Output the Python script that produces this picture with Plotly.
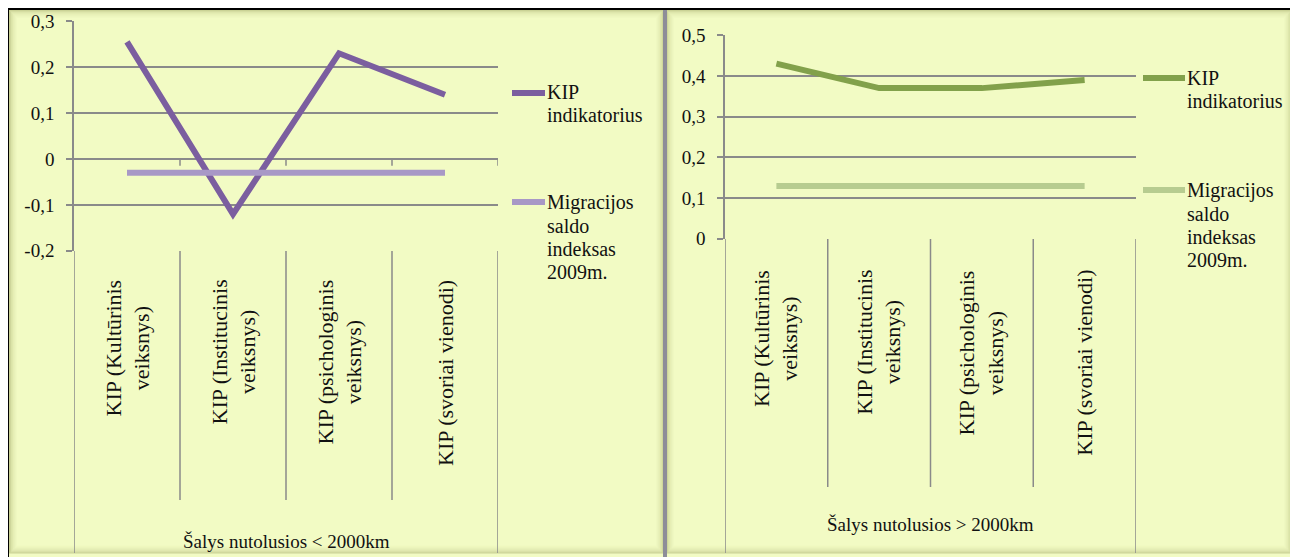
import plotly.graph_objects as go

# page is 1298x557; the page body has an 8px margin, so the figure is offset by 8px
PAGE_W, PAGE_H = 1298, 557
OFF = 8
W, H = PAGE_W - OFF, PAGE_H - OFF

# ---------------- data ----------------
categories = ["KIP (Kultūrinis<br>veiksnys)", "KIP (Institucinis<br>veiksnys)",
              "KIP (psichologinis<br>veiksnys)", "KIP (svoriai vienodi)"]
group_near = "Šalys nutolusios &lt; 2000km"
group_far = "Šalys nutolusios &gt; 2000km"
series_kip_lines = ["KIP", "indikatorius"]
series_mig_lines = ["Migracijos", "saldo", "indeksas", "2009m."]

kip_near = [0.255, -0.12, 0.23, 0.14]
mig_near = [-0.03, -0.03, -0.03, -0.03]
kip_far = [0.43, 0.37, 0.37, 0.39]
mig_far = [0.13, 0.13, 0.13, 0.13]

yticks_near = [-0.2, -0.1, 0, 0.1, 0.2, 0.3]
yticklabels_near = ["-0,2", "-0,1", "0", "0,1", "0,2", "0,3"]
yticks_far = [0, 0.1, 0.2, 0.3, 0.4, 0.5]
yticklabels_far = ["0", "0,1", "0,2", "0,3", "0,4", "0,5"]

# ---------------- styles ----------------
FONT = "Liberation Serif"
TXT = "#111111"
C_KIP_NEAR = "#7B5E9F"
C_MIG_NEAR = "#A898C6"
C_KIP_FAR = "#82A14B"
C_MIG_FAR = "#B7CC90"
BG = "#F2FBC4"
GRID = "#8A8A8A"


def px(x):
    return (x - OFF) / W


def py(y):
    return 1 - (y - OFF) / H


fig = go.Figure()

for xs, ys, col, ax, ay, nm in [
    (categories, kip_near, C_KIP_NEAR, "x", "y", "KIP indikatorius"),
    (categories, mig_near, C_MIG_NEAR, "x", "y", "Migracijos saldo indeksas 2009m."),
    (categories, kip_far, C_KIP_FAR, "x2", "y2", "KIP indikatorius"),
    (categories, mig_far, C_MIG_FAR, "x2", "y2", "Migracijos saldo indeksas 2009m."),
]:
    fig.add_trace(go.Scatter(x=xs, y=ys, mode="lines", line=dict(color=col, width=6),
                             xaxis=ax, yaxis=ay, showlegend=False, name=nm))

xa = dict(type="category", range=[-0.5, 3.5], showticklabels=False, showgrid=False,
          zeroline=False, showline=False, ticks="", fixedrange=True, automargin=False)
ya = dict(showgrid=True, gridcolor=GRID, gridwidth=1.5, zeroline=False, showline=True,
          linecolor=GRID, linewidth=1.5, ticks="outside", ticklen=6, tickwidth=1.5,
          tickcolor=GRID, tickfont=dict(family=FONT, size=19, color=TXT),
          ticklabelstandoff=8, fixedrange=True, automargin=False)

# panel geometry (page pixels)
L_X0, L_X1, L_YT, L_YB = 74, 498, 21, 251
R_X0, R_X1, R_YT, R_YB = 725, 1136, 35, 239

fig.update_layout(
    width=W, height=H, autosize=False,
    margin=dict(l=0, r=0, t=0, b=0, pad=0),
    paper_bgcolor="white", plot_bgcolor="rgba(0,0,0,0)",
    font=dict(family=FONT, color=TXT),
    xaxis=dict(xa, domain=[px(L_X0), px(L_X1)], anchor="y"),
    yaxis=dict(ya, domain=[py(L_YB), py(L_YT)], anchor="x", range=[-0.2004, 0.3004],
               tickvals=yticks_near, ticktext=yticklabels_near),
    xaxis2=dict(xa, domain=[px(R_X0), px(R_X1)], anchor="y2"),
    yaxis2=dict(ya, domain=[py(R_YB), py(R_YT)], anchor="x2", range=[-0.0004, 0.5004],
                tickvals=yticks_far, ticktext=yticklabels_far),
    showlegend=False,
)

shapes = []


def prect(x0, y0, x1, y1, fill, layer="below"):
    shapes.append(dict(type="rect", xref="paper", yref="paper",
                       x0=px(x0), x1=px(x1), y0=py(y1), y1=py(y0),
                       fillcolor=fill, layer=layer, line=dict(width=0)))


# panel backgrounds
prect(9, 9, 664, PAGE_H + 2, BG)
prect(666, 9, 1292, PAGE_H + 2, BG)
# soft inner shadows
for i, a in enumerate([0.3, 0.22, 0.15, 0.11, 0.08, 0.055, 0.035, 0.02]):
    for (x0, x1) in [(9, 664), (666, 1292)]:
        shapes.append(dict(type="rect", xref="paper", yref="paper",
                           x0=px(x0 + i + 0.5), x1=px(x1 - i - 0.5),
                           y0=py(PAGE_H - 4 - i), y1=py(10 + i + 0.5),
                           fillcolor="rgba(0,0,0,0)", layer="below",
                           line=dict(width=1.2, color=f"rgba(110,115,40,{a})")))
# separator and black frame
prect(663, 9, 667, PAGE_H + 2, "#8D8D98")
prect(6, 7, PAGE_W + 2, 10, "#000000")
prect(6, 7, 9, PAGE_H + 2, "#000000")
prect(1291, 7, PAGE_W + 2, PAGE_H + 2, "#000000")


def vline_data(xref, x, y0p, y1p):
    shapes.append(dict(type="line", xref=xref, yref="paper", x0=x, x1=x,
                       y0=py(y0p), y1=py(y1p), line=dict(color=GRID, width=1.5)))


# category dividers and outer lines below the plot areas
for b in [0.5, 1.5, 2.5]:
    vline_data("x", b, L_YB, 500)
    vline_data("x2", b, R_YB, 487)
for b in [-0.5, 3.5]:
    vline_data("x", b, L_YB, 553)
    vline_data("x2", b, R_YB, 553)
# small ticks on the zero line of the left panel
for b in [0.5, 1.5, 2.5, 3.5]:
    shapes.append(dict(type="line", xref="x", yref="y", x0=b, x1=b, y0=0, y1=-0.015,
                       line=dict(color=GRID, width=1.5)))

# legend keys
for (x0, x1, y, c) in [(512, 545, 93, C_KIP_NEAR), (512, 545, 202, C_MIG_NEAR),
                       (1143, 1185, 78, C_KIP_FAR), (1143, 1185, 190, C_MIG_FAR)]:
    shapes.append(dict(type="line", xref="paper", yref="paper", x0=px(x0), x1=px(x1),
                       y0=py(y), y1=py(y), line=dict(color=c, width=6)))

fig.update_layout(shapes=shapes)

ann = []
# category labels (rotated)
for xr, ytop in [("x", 278), ("x2", 268)]:
    for c in categories:
        ann.append(dict(x=c, xref=xr, y=py(ytop), yref="paper", text=c, textangle=-90,
                        xanchor="center", yanchor="top", align="center", showarrow=False,
                        font=dict(family=FONT, size=22, color=TXT)))
# group labels
ann.append(dict(x=1.5, xref="x", y=py(541), yref="paper", text=group_near, showarrow=False,
                xanchor="center", yanchor="middle", font=dict(family=FONT, size=19, color=TXT)))
ann.append(dict(x=1.5, xref="x2", y=py(524), yref="paper", text=group_far, showarrow=False,
                xanchor="center", yanchor="middle", font=dict(family=FONT, size=19, color=TXT)))
# legend texts, one annotation per line
LSP = 23
for (x, y0, lines) in [(545, 92, series_kip_lines), (545, 203, series_mig_lines),
                       (1185, 78, series_kip_lines), (1185, 191, series_mig_lines)]:
    for k, t in enumerate(lines):
        ann.append(dict(x=px(x), xref="paper", y=py(y0 + k * LSP), yref="paper", text=t,
                        showarrow=False, xanchor="left", yanchor="middle", align="left",
                        font=dict(family=FONT, size=20, color=TXT)))
fig.update_layout(annotations=ann)

fig.write_html("out.html")
